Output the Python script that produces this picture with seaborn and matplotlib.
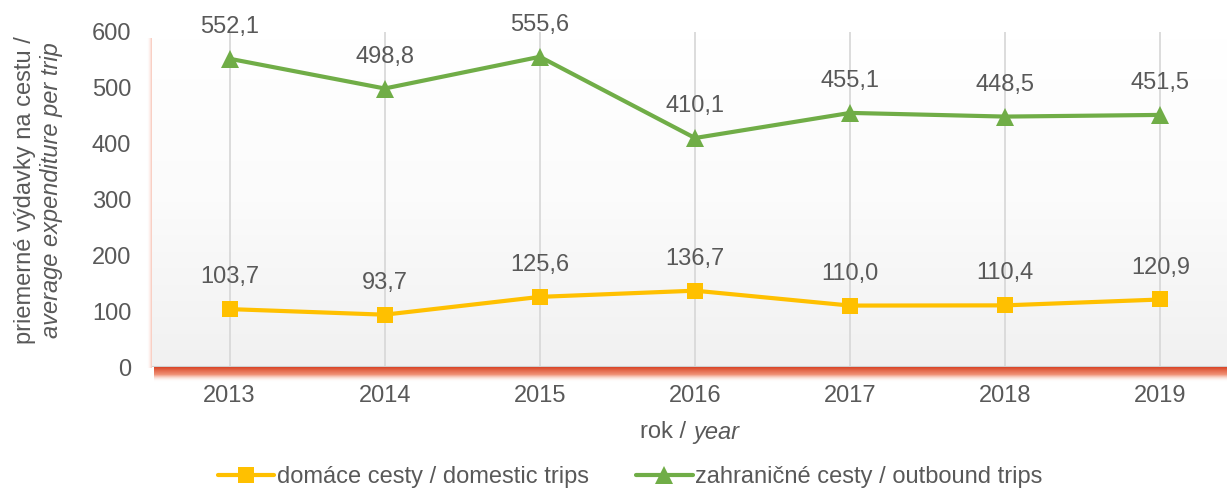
import numpy as np
import pandas as pd
import matplotlib
matplotlib.use("Agg")
import matplotlib.pyplot as plt
import seaborn as sns
from matplotlib.colors import LinearSegmentedColormap

# values
years = [2013, 2014, 2015, 2016, 2017, 2018, 2019]
domestic = [103.7, 93.7, 125.6, 136.7, 110.0, 110.4, 120.9]
outbound = [552.1, 498.8, 555.6, 410.1, 455.1, 448.5, 451.5]
series_names = ["domáce cesty / domestic trips", "zahraničné cesty / outbound trips"]
series_colors = ["#ffc000", "#70ad47"]
series_markers = ["s", "^"]
y_ticks = [0, 100, 200, 300, 400, 500, 600]

df = pd.concat([
    pd.DataFrame({"rok": years, "value": domestic, "series": series_names[0]}),
    pd.DataFrame({"rok": years, "value": outbound, "series": series_names[1]}),
])

sns.set_style("white")
plt.rcParams["font.family"] = ["Liberation Sans", "DejaVu Sans"]
txt = "#595959"
fs = 17

fig = plt.figure(figsize=(12.27, 4.88), dpi=100)
W, H = 1227, 488
ax = fig.add_axes([152 / W, 1 - 367 / H, (1238 - 152) / W, (367 - 32) / H])

# gradient wall behind the plot
grad = np.linspace(0, 1, 256).reshape(-1, 1)
wall = LinearSegmentedColormap.from_list("wall", ["#ffffff", "#fbfbfb", "#f1f1f1"])
ax.imshow(grad, cmap=wall, extent=[0, 1, 0, (367 - 38) / (367 - 32)], transform=ax.transAxes,
          aspect="auto", zorder=0)

# orange shadow under the floor and a faint one on the left edge
shadow = LinearSegmentedColormap.from_list(
    "sh", [(0.85, 0.27, 0.15, 1.0), (0.92, 0.42, 0.28, 0.75), (1, 1, 1, 0.0)])
sh_ax = fig.add_axes([154 / W, 1 - 382 / H, (1238 - 154) / W, 15 / H], zorder=-1)
sh_ax.imshow(np.linspace(0, 1, 64).reshape(-1, 1), cmap=shadow, aspect="auto")
sh_ax.axis("off")
left_sh = LinearSegmentedColormap.from_list(
    "lsh", [(1, 1, 1, 0.0), (0.95, 0.55, 0.45, 0.5)])
lh_ax = fig.add_axes([147 / W, 1 - 368 / H, 5 / W, (368 - 38) / H], zorder=-1)
lh_ax.imshow(np.linspace(0, 1, 64).reshape(1, -1), cmap=left_sh, aspect="auto")
lh_ax.axis("off")

for yr in years:
    ax.axvline(yr, color="#d9d9d9", lw=1.3, zorder=1)
ax.axhline(0, color="#d0d0d0", lw=1.5, zorder=1)

sns.lineplot(data=df, x="rok", y="value", hue="series", style="series",
             palette=dict(zip(series_names, series_colors)),
             markers=dict(zip(series_names, series_markers)), dashes=False,
             linewidth=3, markersize=11, markeredgewidth=0, ax=ax, zorder=3,
             legend=False)
# triangles a bit bigger, like the original
for ln in ax.lines:
    if ln.get_marker() == "^":
        ln.set_markersize(13)

for vals in (domestic, outbound):
    for yr, v in zip(years, vals):
        ax.annotate(f"{v:.1f}".replace(".", ","), (yr, v), xytext=(0, 23),
                    textcoords="offset points", ha="center", va="center",
                    fontsize=fs, color=txt)

ax.set_xlim(2012.5, 2019.5)
ax.set_ylim(0, 600)
ax.set_xticks(years)
ax.set_yticks(y_ticks)
ax.tick_params(length=0, labelsize=fs, labelcolor=txt)
ax.tick_params(axis="y", pad=15)
ax.tick_params(axis="x", pad=13)
ax.set_xlabel("")
ax.set_ylabel("")
for s in ax.spines.values():
    s.set_visible(False)
ax.set_facecolor("none")

# axis titles with italic English part
fig.text(693 / W, 1 - 432 / H, "rok / ", ha="right", va="center", fontsize=fs, color=txt)
fig.text(693 / W, 1 - 432 / H, "year", ha="left", va="center", fontsize=fs, color=txt,
         style="italic")
fig.text(25 / W, 1 - 190 / H, "priemerné výdavky na cestu /", rotation=90, ha="center",
         va="center", fontsize=fs, color=txt)
fig.text(52 / W, 1 - 190 / H, "average expenditure per trip", rotation=90, ha="center",
         va="center", fontsize=fs, color=txt, style="italic")

handles = [plt.Line2D([], [], color=c, marker=m, lw=3, markersize=ms, markeredgewidth=0)
           for c, m, ms in zip(series_colors, series_markers, [11, 13])]
fig.legend(handles, series_names, loc="center", bbox_to_anchor=(630 / W, 1 - 477 / H),
           ncol=2, frameon=False, fontsize=fs, labelcolor=txt, handlelength=2.4,
           handletextpad=0.1, columnspacing=2.0)

fig.savefig("out.png", dpi=100)
